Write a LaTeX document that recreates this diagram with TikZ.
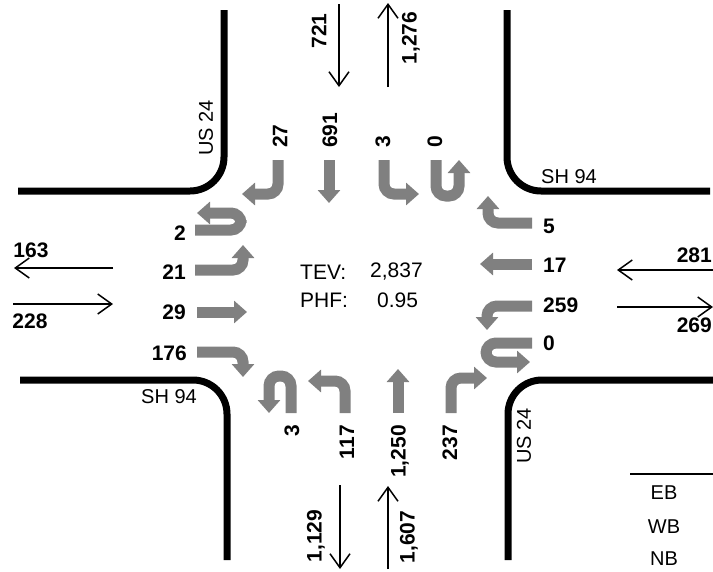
\documentclass[tikz,border=0pt]{standalone}
\usepackage{fontspec}
\setmainfont{Liberation Sans}
\usetikzlibrary{arrows.meta}
\definecolor{ink}{HTML}{000000}
\definecolor{turn}{HTML}{808080}
\tikzset{
  roadline/.style={line width=7pt,draw=ink,rounded corners=34pt},
  mvarrow/.style={line width=11pt,draw=turn,rounded corners=10pt,-{Triangle[length=13pt,width=22pt]}},
  volarrow/.style={line width=1.5pt,draw=ink,-{Straight Barb[length=14pt,width=20pt]}},
  cnt/.style={inner sep=0pt,text=ink,font=\fontsize{21}{24}\selectfont\bfseries},
  rdname/.style={inner sep=0pt,text=ink,font=\fontsize{20}{24}\selectfont},
  info/.style={inner sep=0pt,text=ink,font=\fontsize{21}{24}\selectfont,anchor=west}
}
\begin{document}
\begin{tikzpicture}[x=1pt,y=-1pt]
  \useasboundingbox (0,0) rectangle (713,571);
  % road edges
  \draw[roadline] (18,191) -- (224,191) -- (224,10);
  \draw[roadline] (507,10) -- (507,191) -- (710,191);
  \draw[roadline] (20,380) -- (227,380) -- (227,560);
  \draw[roadline] (713,380) -- (508,380) -- (508,560);
  \node[rdname,rotate=90] (usN) at (206,128) {US 24};
  \node[rdname] (shE) at (569,177) {SH 94};
  \node[rdname] (shW) at (169,397) {SH 94};
  \node[rdname,rotate=90] (usS) at (524,436) {US 24};
  % approach volumes
  \draw[volarrow] (113,268) -- (14,268);
  \draw[volarrow] (13,304) -- (113,304);
  \draw[volarrow] (713,270) -- (617,270);
  \draw[volarrow] (617,307) -- (713,307);
  \draw[volarrow] (339,4) -- (339,87);
  \draw[volarrow] (388,87) -- (388,3);
  \draw[volarrow] (340,485) -- (340,569);
  \draw[volarrow] (388,569) -- (388,486);
  \node[cnt] (wbOut) at (31,250) {163};
  \node[cnt] (ebIn) at (30,321) {228};
  \node[cnt,anchor=east] (wbIn) at (712,255) {281};
  \node[cnt,anchor=east] (ebOut) at (712,325) {269};
  \node[cnt,rotate=90] (sbIn) at (319,31) {721};
  \node[cnt,rotate=90] (nbOut) at (411,38) {1,276};
  \node[cnt,rotate=90] (sbOut) at (316,536) {1,129};
  \node[cnt,rotate=90] (nbIn) at (409,537) {1,607};
  % southbound
  \draw[mvarrow] (278,160) -- (278,194) -- (242,194);
  \draw[mvarrow] (329,160) -- (329,203);
  \draw[mvarrow] (384,160) -- (384,194) -- (419,194);
  \draw[mvarrow] (436,160) -- (436,196) -- (459,196) -- (459,160);
  \node[cnt,rotate=90,anchor=west] (sbR) at (280,148) {27};
  \node[cnt,rotate=90,anchor=west] (sbT) at (330,148) {691};
  \node[cnt,rotate=90,anchor=west] (sbL) at (383,148) {3};
  \node[cnt,rotate=90,anchor=west] (sbU) at (435,148) {0};
  % westbound
  \draw[mvarrow] (532,223) -- (488,223) -- (488,196);
  \draw[mvarrow] (532,264) -- (480,264);
  \draw[mvarrow] (532,306) -- (487,306) -- (487,330);
  \draw[mvarrow] (532,343) -- (486,343) -- (486,362) -- (530,362);
  \node[cnt,anchor=west] (wbR) at (543,226) {5};
  \node[cnt,anchor=west] (wbT) at (543,265) {17};
  \node[cnt,anchor=west] (wbL) at (543,305) {259};
  \node[cnt,anchor=west] (wbU) at (543,343) {0};
  % northbound
  \draw[mvarrow] (291,413) -- (291,376) -- (269,376) -- (269,413);
  \draw[mvarrow] (345,413) -- (345,381) -- (308,381);
  \draw[mvarrow] (398,413) -- (398,369);
  \draw[mvarrow] (451,413) -- (451,378) -- (487,378);
  \node[cnt,rotate=90,anchor=east] (nbU) at (292,425) {3};
  \node[cnt,rotate=90,anchor=east] (nbL) at (347,425) {117};
  \node[cnt,rotate=90,anchor=east] (nbT) at (400,425) {1,250};
  \node[cnt,rotate=90,anchor=east] (nbR) at (450,425) {237};
  % eastbound
  \draw[mvarrow] (195,230) -- (241,230) -- (241,213) -- (197,213);
  \draw[mvarrow] (195,270) -- (243,270) -- (243,245);
  \draw[mvarrow] (197,312) -- (247,312);
  \draw[mvarrow] (197,352) -- (243,352) -- (243,377);
  \node[cnt,anchor=east] (ebU) at (186,233) {2};
  \node[cnt,anchor=east] (ebL) at (186,272) {21};
  \node[cnt,anchor=east] (ebT) at (186,312) {29};
  \node[cnt,anchor=east] (ebR) at (187,353) {176};
  % totals
  \node[info] (tev) at (300,272) {TEV:};
  \node[info] (tevVal) at (370,272) {2,837};
  \node[info] (phf) at (300,300) {PHF:};
  \node[info] (phfVal) at (377,300) {0.95};
  % legend
  \draw[line width=1.5pt,draw=ink] (630,474) -- (713,474);
  \node[rdname] (legEB) at (664,493) {EB};
  \node[rdname] (legWB) at (664,527) {WB};
  \node[rdname] (legNB) at (664,559) {NB};
\end{tikzpicture}
\end{document}
